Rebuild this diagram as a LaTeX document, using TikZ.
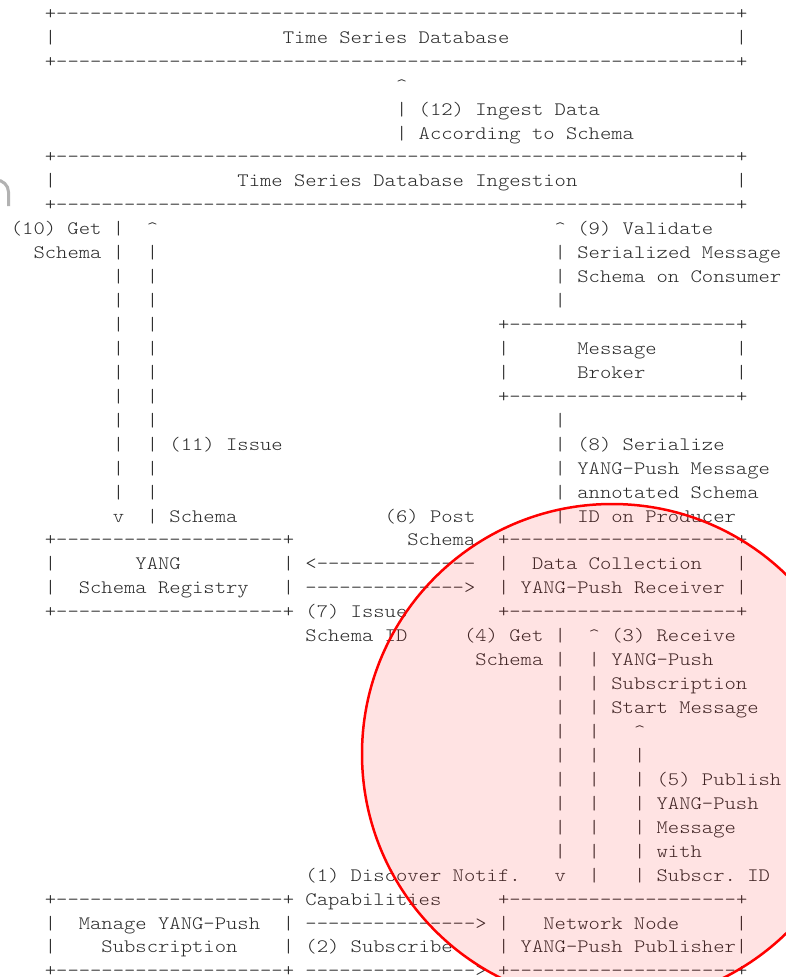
\documentclass[tikz,border=0pt]{standalone}
\usepackage{fontspec}
\setmonofont{lmmonolt10-regular.otf}[FakeStretch=1.136]
\usepackage{xcolor}

\definecolor{ink}{HTML}{2A2A2A}
\definecolor{markred}{HTML}{FF0000}

% grid of the character cells, in px
\newcommand{\pitch}{11.33}
\newcommand{\xo}{10.85}
\newcommand{\yo}{19.3}
\newcommand{\lead}{23.94}
\newcommand{\asciifont}{\ttfamily\fontsize{19}{24}\selectfont\frenchspacing}

\ExplSyntaxOn
\cs_new:Npn \dashrun #1 { \prg_replicate:nn {#1} {-} }
\ExplSyntaxOff
\newcommand{\boxedge}[1]{+\dashrun{#1}+}
\newcommand{\up}{\textasciicircum}

% one text cell run: name, column, row, text
\newcommand{\asc}[4]{\node[asc] (#1) at ({\xo+#2*\pitch},{\yo+#3*\lead}) {#4};}

\tikzset{
    asc/.style={anchor=base west, inner sep=0pt, outer sep=0pt,
                font=\asciifont, text=ink}
}

\begin{document}
\begin{tikzpicture}[x=1pt, y=-1pt]
    \useasboundingbox (0,0) rectangle (786,977);
    \fill[white] (0,0) rectangle (786,977);

    % Time Series Database
    \asc{tsdb-top}{3}{0}{\boxedge{60}}
    \asc{tsdb-l}{3}{1}{|}
    \asc{tsdb}{24}{1}{Time Series Database}
    \asc{tsdb-r}{64}{1}{|}
    \asc{tsdb-bot}{3}{2}{\boxedge{60}}

    % (12)
    \asc{ingest-tip}{34}{3}{\up}
    \asc{ingest-a}{34}{4}{|}
    \asc{ingest-b}{34}{5}{|}
    \asc{ingest-t1}{36}{4}{(12) Ingest Data}
    \asc{ingest-t2}{36}{5}{According to Schema}

    % Time Series Database Ingestion
    \asc{tsdbi-top}{3}{6}{\boxedge{60}}
    \asc{tsdbi-l}{3}{7}{|}
    \asc{tsdbi}{20}{7}{Time Series Database Ingestion}
    \asc{tsdbi-r}{64}{7}{|}
    \asc{tsdbi-bot}{3}{8}{\boxedge{60}}

    % (10) and (11)
    \asc{getschema-t1}{0}{9}{(10) Get}
    \asc{getschema-t2}{2}{10}{Schema}
    \foreach \r in {9,...,20} {\asc{getschema-\r}{9}{\r}{|}}
    \asc{getschema-tip}{9}{21}{v}
    \asc{issue-tip}{12}{9}{\up}
    \foreach \r in {10,...,21} {\asc{issue-\r}{12}{\r}{|}}
    \asc{issue-t1}{14}{18}{(11) Issue}
    \asc{issue-t2}{14}{21}{Schema}

    % (9)
    \asc{validate-tip}{48}{9}{\up}
    \foreach \r in {10,...,12} {\asc{validate-\r}{48}{\r}{|}}
    \asc{validate-t1}{50}{9}{(9) Validate}
    \asc{validate-t2}{50}{10}{Serialized Message}
    \asc{validate-t3}{50}{11}{Schema on Consumer}

    % Message Broker
    \asc{broker-top}{43}{13}{\boxedge{20}}
    \asc{broker-l1}{43}{14}{|}
    \asc{broker-l2}{43}{15}{|}
    \asc{broker-t1}{50}{14}{Message}
    \asc{broker-t2}{50}{15}{Broker}
    \asc{broker-r1}{64}{14}{|}
    \asc{broker-r2}{64}{15}{|}
    \asc{broker-bot}{43}{16}{\boxedge{20}}

    % (8)
    \foreach \r in {17,...,21} {\asc{serialize-\r}{48}{\r}{|}}
    \asc{serialize-t1}{50}{18}{(8) Serialize}
    \asc{serialize-t2}{50}{19}{YANG-Push Message}
    \asc{serialize-t3}{50}{20}{annotated Schema}
    \asc{serialize-t4}{50}{21}{ID on Producer}

    % YANG Schema Registry
    \asc{registry-top}{3}{22}{\boxedge{20}}
    \asc{registry-l1}{3}{23}{|}
    \asc{registry-l2}{3}{24}{|}
    \asc{registry-t1}{11}{23}{YANG}
    \asc{registry-t2}{6}{24}{Schema Registry}
    \asc{registry-r1}{24}{23}{|}
    \asc{registry-r2}{24}{24}{|}
    \asc{registry-bot}{3}{25}{\boxedge{20}}

    % (6) and (7)
    \asc{post-t1}{33}{21}{(6) Post}
    \asc{post-t2}{35}{22}{Schema}
    \asc{post}{26}{23}{<\dashrun{14}}
    \asc{issueid}{26}{24}{\dashrun{14}>}
    \asc{issueid-t1}{26}{25}{(7) Issue}
    \asc{issueid-t2}{26}{26}{Schema ID}

    % Data Collection YANG-Push Receiver
    \asc{receiver-top}{43}{22}{\boxedge{20}}
    \asc{receiver-l1}{43}{23}{|}
    \asc{receiver-l2}{43}{24}{|}
    \asc{receiver-t1}{46}{23}{Data Collection}
    \asc{receiver-t2}{45}{24}{YANG-Push Receiver}
    \asc{receiver-r1}{64}{23}{|}
    \asc{receiver-r2}{64}{24}{|}
    \asc{receiver-bot}{43}{25}{\boxedge{20}}

    % (4)
    \asc{getschema4-t1}{40}{26}{(4) Get}
    \asc{getschema4-t2}{41}{27}{Schema}
    \foreach \r in {26,...,35} {\asc{getschema4-\r}{48}{\r}{|}}
    \asc{getschema4-tip}{48}{36}{v}

    % (3)
    \asc{start-tip}{51}{26}{\up}
    \foreach \r in {27,...,36} {\asc{start-\r}{51}{\r}{|}}
    \asc{start-t1}{53}{26}{(3) Receive}
    \asc{start-t2}{53}{27}{YANG-Push}
    \asc{start-t3}{53}{28}{Subscription}
    \asc{start-t4}{53}{29}{Start Message}

    % (5)
    \asc{publish-tip}{55}{30}{\up}
    \foreach \r in {31,...,36} {\asc{publish-\r}{55}{\r}{|}}
    \asc{publish-t1}{57}{32}{(5) Publish}
    \asc{publish-t2}{57}{33}{YANG-Push}
    \asc{publish-t3}{57}{34}{Message}
    \asc{publish-t4}{57}{35}{with}
    \asc{publish-t5}{57}{36}{Subscr. ID}

    % Manage YANG-Push Subscription
    \asc{manage-top}{3}{37}{\boxedge{20}}
    \asc{manage-l1}{3}{38}{|}
    \asc{manage-l2}{3}{39}{|}
    \asc{manage-t1}{6}{38}{Manage YANG-Push}
    \asc{manage-t2}{8}{39}{Subscription}
    \asc{manage-r1}{24}{38}{|}
    \asc{manage-r2}{24}{39}{|}
    \asc{manage-bot}{3}{40}{\boxedge{20}}

    % (1) and (2)
    \asc{discover-t1}{26}{36}{(1) Discover Notif.}
    \asc{discover-t2}{26}{37}{Capabilities}
    \asc{discover}{26}{38}{\dashrun{15}>}
    \asc{subscribe-t1}{26}{39}{(2) Subscribe}
    \asc{subscribe}{26}{40}{\dashrun{15}>}

    % Network Node YANG-Push Publisher
    \asc{publisher-top}{43}{37}{\boxedge{20}}
    \asc{publisher-l1}{43}{38}{|}
    \asc{publisher-l2}{43}{39}{|}
    \asc{publisher-t1}{47}{38}{Network Node}
    \asc{publisher-t2}{45}{39}{YANG-Push Publisher}
    \asc{publisher-r1}{64}{38}{|}
    \asc{publisher-r2}{64}{39}{|}
    \asc{publisher-bot}{43}{40}{\boxedge{20}}

    % cut-off letter at the left edge
    \draw[gray!60, line width=3pt] (-4,180) to[out=0, in=90] (8.5,192) -- (8.5,206);

    % red marking circle
    \draw[markred, line width=2.5pt, fill=markred, fill opacity=0.11] (612,754) circle [radius=250];
\end{tikzpicture}
\end{document}
